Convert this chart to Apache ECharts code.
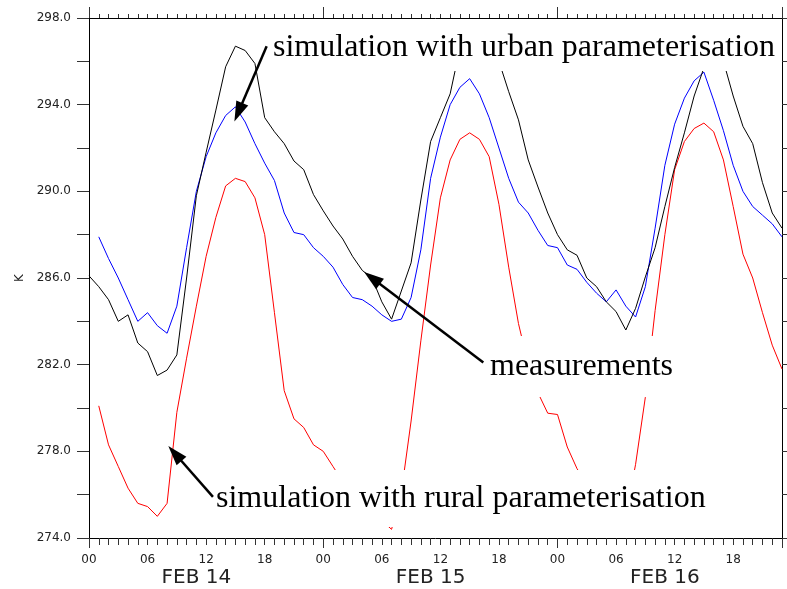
<!DOCTYPE html>
<html>
<head>
<meta charset="utf-8">
<script src="https://cdn.jsdelivr.net/npm/echarts@6/dist/echarts.min.js"></script>
<style>
html,body{margin:0;padding:0;background:#fff;}
#chart{width:787px;height:589px;}
</style>
</head>
<body>
<div id="chart"></div>
<script>
// ---- data (hourly values, K) ----
const MEAS_START_HOUR = 0;   // measurements start at FEB 14 00
const SIM_START_HOUR = 1;    // simulations start at FEB 14 01
const measuredTemp = [
  286.1, 285.6, 285.0, 284.0, 284.3, 283.0, 282.6, 281.5, 281.75, 282.45,
  286.0, 289.8, 291.8, 293.75, 295.75, 296.7, 296.5, 295.9, 293.4, 292.75,
  292.2, 291.4, 291.0, 289.85, 289.1, 288.4, 287.8, 287.0, 286.35, 286.0,
  284.9, 284.1, 285.4, 286.7, 289.6, 292.3, 293.4, 294.5, 296.6, 297.4,
  297.6, 297.0, 296.0, 294.6, 293.3, 291.45, 290.2, 289.0, 288.0, 287.3,
  287.05, 286.0, 285.6, 284.9, 284.45, 283.6, 284.6, 286.05, 287.4, 289.3,
  291.1, 292.7, 294.4, 295.7, 296.6, 296.0, 294.4, 293.0, 292.2, 290.4,
  289.0, 288.3
];
const urbanSimTemp = [
  287.9, 286.9, 286.0, 285.0, 284.0, 284.4, 283.8, 283.45, 284.7, 287.4,
  290.0, 291.6, 292.7, 293.5, 293.9, 293.2, 292.2, 291.3, 290.5, 289.0,
  288.1, 288.0, 287.4, 287.0, 286.5, 285.7, 285.1, 285.0, 284.7, 284.3,
  284.0, 284.1, 285.1, 287.3, 290.6, 292.5, 294.0, 294.8, 295.2, 294.5,
  293.4, 292.0, 290.6, 289.5, 289.0, 288.2, 287.5, 287.4, 286.6, 286.4,
  285.8, 285.3, 284.9, 285.45, 284.7, 284.2, 285.6, 288.3, 291.2, 293.1,
  294.3, 295.1, 295.5, 294.2, 292.8, 291.2, 290.0, 289.3, 288.9, 288.5,
  287.9
];
const ruralSimTemp = [
  280.1, 278.3, 277.3, 276.3, 275.6, 275.45, 275.0, 275.6, 279.8, 282.3,
  284.7, 287.0, 288.8, 290.25, 290.6, 290.45, 289.7, 288.0, 284.4, 280.8,
  279.5, 279.1, 278.3, 278.0, 277.3, 276.6, 276.0, 275.5, 275.1, 274.8,
  274.4, 276.1, 279.4, 283.1, 286.6, 289.7, 291.45, 292.4, 292.7, 292.4,
  291.6, 289.4, 286.5, 283.9, 282.0, 280.7, 279.76, 279.7, 278.2, 277.2,
  276.5, 275.9, 275.4, 275.1, 275.0, 277.4, 280.5, 284.5, 288.0, 291.0,
  292.3, 292.9, 293.15, 292.75, 291.45, 289.3, 287.1, 286.0, 284.4, 282.9,
  281.8
];
const dayLabels = ['FEB 14', 'FEB 15', 'FEB 16'];
const hourLabels = ['00', '06', '12', '18'];
const yRange = [274, 298];
const xRange = [0, 71];

// annotations and their arrows: tail [hour, K] -> head [hour, K]
const annoUrban = 'simulation with urban parameterisation';
const annoMeas = 'measurements';
const annoRural = 'simulation with rural parameterisation';
const arrowUrban = [[18.2, 296.7], [15.3, 293.65]];
const arrowMeas = [[40.4, 282.1], [29.0, 286.0]];
const arrowRural = [[12.7, 275.9], [8.8, 277.9]];

const toPairs = (arr, start) => arr.map((v, i) => [start + i, v]);

const chart = echarts.init(document.getElementById('chart'), null, {renderer: 'canvas'});
const tickFont = {fontFamily: 'DejaVu Sans', fontSize: 12, color: '#222'};
const axisLineStyle = {color: '#000', width: 1};

const hiddenAxisCommon = {type: 'value', min: xRange[0], max: xRange[1], splitLine: {show: false}};

const option = {
  animation: false,
  backgroundColor: '#fff',
  grid: {left: 89, right: 5, top: 18, bottom: 51, containLabel: false, outerBoundsMode: 'none'},
  xAxis: [
    Object.assign({}, hiddenAxisCommon, {
      position: 'bottom', interval: 1,
      axisLine: {show: true, onZero: false, lineStyle: axisLineStyle},
      axisTick: {show: true, inside: false, length: 7, lineStyle: {color: '#333'}},
      axisLabel: Object.assign({
        margin: 16,
        formatter: v => (v % 6 === 0 ? hourLabels[(v % 24) / 6] : '')
      }, tickFont)
    }),
    Object.assign({}, hiddenAxisCommon, {
      position: 'bottom', interval: 24,
      axisLine: {show: false},
      axisTick: {show: true, inside: false, length: 10, lineStyle: {color: '#333'}},
      axisLabel: {show: false}
    }),
    Object.assign({}, hiddenAxisCommon, {
      position: 'bottom', interval: 1,
      axisLine: {show: false}, axisTick: {show: false},
      axisLabel: {
        margin: 30, fontFamily: 'DejaVu Sans', fontSize: 20, color: '#222',
        formatter: v => (v % 24 === 11 ? dayLabels[Math.floor(v / 24)] : '')
      }
    }),
    Object.assign({}, hiddenAxisCommon, {
      position: 'top', interval: 1,
      axisLine: {show: true, onZero: false, lineStyle: axisLineStyle},
      axisTick: {show: true, inside: false, length: 4, lineStyle: {color: '#333'}},
      axisLabel: {show: false}
    }),
    Object.assign({}, hiddenAxisCommon, {
      position: 'top', interval: 24,
      axisLine: {show: false},
      axisTick: {show: true, inside: false, length: 11, lineStyle: {color: '#333'}},
      axisLabel: {show: false}
    })
  ],
  yAxis: [
    {
      type: 'value', position: 'left', min: yRange[0], max: yRange[1], interval: 2,
      splitLine: {show: false},
      axisLine: {show: true, onZero: false, lineStyle: axisLineStyle},
      axisTick: {show: true, inside: false, length: 12, lineStyle: {color: '#333'}},
      axisLabel: Object.assign({
        margin: 18,
        formatter: v => ((v - yRange[0]) % 4 === 0 ? v.toFixed(1) : '')
      }, tickFont),
      name: 'K', nameLocation: 'middle', nameGap: 62, nameRotate: 90,
      nameTextStyle: {fontFamily: 'DejaVu Sans', fontSize: 12, color: '#222'}
    },
    {
      type: 'value', position: 'right', min: yRange[0], max: yRange[1], interval: 2,
      splitLine: {show: false},
      axisLine: {show: true, onZero: false, lineStyle: axisLineStyle},
      axisTick: {show: true, inside: false, length: 5, lineStyle: {color: '#333'}},
      axisLabel: {show: false}
    }
  ],
  series: [
    {
      name: 'rural', type: 'line', xAxisIndex: 0, yAxisIndex: 0, z: 2,
      data: toPairs(ruralSimTemp, SIM_START_HOUR), showSymbol: false, symbol: 'none',
      lineStyle: {color: '#ff0000', width: 1}, silent: true
    },
    {
      name: 'urban', type: 'line', xAxisIndex: 0, yAxisIndex: 0, z: 2,
      data: toPairs(urbanSimTemp, SIM_START_HOUR), showSymbol: false, symbol: 'none',
      lineStyle: {color: '#0000ff', width: 1}, silent: true
    },
    {
      name: 'measured', type: 'line', xAxisIndex: 0, yAxisIndex: 0, z: 2,
      data: toPairs(measuredTemp, MEAS_START_HOUR), showSymbol: false, symbol: 'none',
      lineStyle: {color: '#000000', width: 1}, silent: true,
      markLine: {
        z: 10, silent: true, animation: false,
        symbol: ['none', 'triangle'], symbolSize: [13, 20],
        label: {show: false},
        lineStyle: {color: '#000', width: 2.5, type: 'solid'},
        emphasis: {disabled: true},
        data: [arrowUrban, arrowMeas, arrowRural].map(a => [{coord: a[0]}, {coord: a[1]}])
      }
    }
  ],
  graphic: {
    elements: [
      {type: 'rect', z: 4, silent: true, shape: {x: 268, y: 22, width: 512, height: 49}, style: {fill: '#fff'}},
      {type: 'rect', z: 4, silent: true, shape: {x: 478, y: 336, width: 212, height: 61}, style: {fill: '#fff'}},
      {type: 'rect', z: 4, silent: true, shape: {x: 205, y: 470, width: 510, height: 57}, style: {fill: '#fff'}},
      {type: 'text', z: 6, silent: true, x: 273, y: 48, style: {text: annoUrban, fill: '#000', font: '32px "Liberation Serif"', verticalAlign: 'middle'}},
      {type: 'text', z: 6, silent: true, x: 490, y: 367, style: {text: annoMeas, fill: '#000', font: '32px "Liberation Serif"', verticalAlign: 'middle'}},
      {type: 'text', z: 6, silent: true, x: 216, y: 499, style: {text: annoRural, fill: '#000', font: '32px "Liberation Serif"', verticalAlign: 'middle'}}
    ]
  }
};
chart.setOption(option);
</script>
</body>
</html>
